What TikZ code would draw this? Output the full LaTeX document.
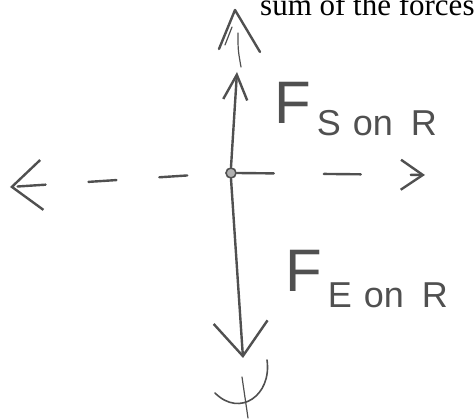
\documentclass[tikz,border=0pt]{standalone}
\usepackage{fontspec}
\setmainfont{Liberation Serif}
\newfontfamily\handfont{Liberation Sans}
\usetikzlibrary{arrows.meta,positioning}
\definecolor{cpen}{RGB}{80,80,80}

\begin{document}
\begin{tikzpicture}[x=1pt,y=-1pt,
    pen/.style={draw=cpen, line width=2.4pt, line cap=round, line join=round}]
    \useasboundingbox (0,0) rectangle (475,419);
    \clip (0,0) rectangle (475,419);
    % caption cut off at the top
    \node[anchor=base west, inner sep=0pt, font=\fontsize{31}{31}\selectfont] (cap) at (260,16) {sum of the forces};
    % the point and its four ends
    \node[draw=cpen, fill=cpen!45, line width=1.6pt, circle, inner sep=0pt, minimum size=10pt] (P) at (231,173) {};
    \coordinate (up) at (237,72);
    \coordinate (down) at (243,358);
    \coordinate (left) at (10,187);
    \coordinate (right) at (425,175);
    \coordinate (net) at (235,10);
    % forces along the vertical
    \draw[pen, -{Straight Barb[length=25pt, width=24pt]}] (P.north) -- (up);
    \draw[pen, -{Straight Barb[length=34pt, width=54pt]}] (P.south) -- (down);
    % dashed horizontal axis
    \draw[pen, dash pattern=on 28pt off 43pt, dash phase=33pt,
          -{Straight Barb[length=30pt, width=50pt]}] (P.west) -- (left);
    \draw[pen, dash pattern=on 37pt off 50pt,
          -{Straight Barb[length=22pt, width=30pt]}] (P.east) -- (right);
    % open arrow on top
    \draw[pen] (219,49) -- (net) -- (260,52);
    \draw[pen, line width=1.2pt] (225,45) -- (232,27);
    \draw[pen, line width=1.2pt] (238,33) .. controls (238,50) .. (241,67);
    % mark below
    \draw[pen, line width=1.6pt] (267,360) .. controls (272,395) and (240,418) .. (215,393);
    \draw[pen, line width=1.2pt] (242,377) -- (248,418);
    % labels
    \node[anchor=base west, inner sep=0pt, text=cpen, font=\handfont\fontsize{60}{60}\selectfont] (Fsr) at (274,124)
         {F\raisebox{-12pt}{\fontsize{36}{36}\selectfont \,S\,\,on\,\,\,R}};
    \node[anchor=base west, inner sep=0pt, text=cpen, font=\handfont\fontsize{60}{60}\selectfont] (Fer) at (285,292)
         {F\raisebox{-16pt}{\fontsize{36}{36}\selectfont \,E\,\,on\,\,\,R}};
\end{tikzpicture}
\end{document}
